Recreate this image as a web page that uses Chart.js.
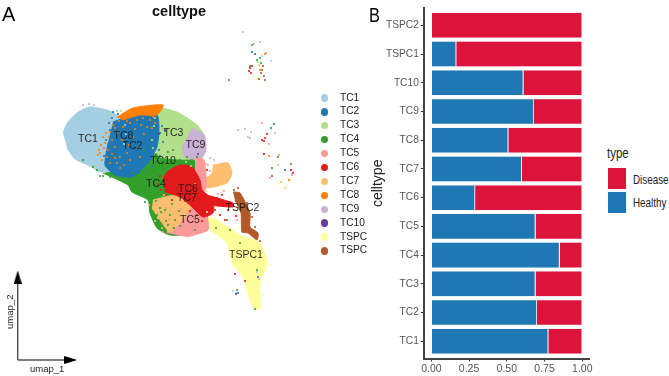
<!DOCTYPE html>
<html>
<head>
<meta charset="utf-8">
<script src="https://cdn.jsdelivr.net/npm/chart.js@4/dist/chart.umd.min.js"></script>
<style>
  html, body { margin: 0; padding: 0; background: #fff; }
  #page { position: relative; width: 669px; height: 376px; overflow: hidden; font-family: "Liberation Sans", Arial, sans-serif; }
  canvas { position: absolute; top: 0; }
  .txt { position: absolute; white-space: nowrap; line-height: 1; }
  .dot { position: absolute; width: 7.4px; height: 7.4px; border-radius: 50%; }
  .swatch { position: absolute; left: 608px; width: 18px; height: 21px; }
  .narrow { color: #222; transform-origin: left top; transform: scaleX(0.82); }
</style>
</head>
<body>
<div id="page">
  <canvas id="umapChart" width="320" height="376" style="left:0"></canvas>
  <canvas id="barChart" width="260" height="376" style="left:340px"></canvas>
  <div class="txt" style="left:2px;top:4px;font-size:20px">A</div>
  <div class="txt narrow" style="left:369px;top:5px;font-size:20px;color:#000">B</div>
  <div class="txt" style="left:152px;top:4px;font-size:14.5px;font-weight:bold;color:#111">celltype</div>
  <div class="txt" style="left:30px;top:364px;font-size:9.5px;color:#222">umap_1</div>
  <div class="txt" style="left:-7px;top:307px;font-size:9.5px;color:#222;transform:rotate(-90deg)">umap_2</div>
  <div class="txt narrow" style="left:607px;top:146px;font-size:14px">type</div>
  <div class="swatch" style="top:168px;background:#DC143C"></div>
  <div class="swatch" style="top:192px;background:#1F78B4"></div>
  <div class="txt narrow" style="left:633px;top:174px;font-size:12px">Disease</div>
  <div class="txt narrow" style="left:633px;top:197px;font-size:12px">Healthy</div>
  <div id="legend"></div>
</div>
<script>
// legend of panel A (the last two names are cut short in the original)
const legendNames = ["TC1", "TC2", "TC3", "TC4", "TC5", "TC6", "TC7", "TC8", "TC9", "TC10", "TSPC", "TSPC"];
const legendColors = ["#A6CEE3", "#1F78B4", "#B2DF8A", "#33A02C", "#FB9A99", "#E31A1C", "#FDBF6F", "#FF7F00", "#CAB2D6", "#6A3D9A", "#FFFF99", "#B15928"];

// cluster names placed on the umap
const clusterNames = ["TC1", "TC8", "TC2", "TC3", "TC9", "TC10", "TC4", "TC6", "TC7", "TC5", "TSPC2", "TSPC1"];
const clusterX = [8.8, 12.35, 13.25, 17.35, 19.55, 16.3, 15.6, 18.8, 18.7, 19.0, 24.25, 24.6];
const clusterY = [22.1, 22.4, 21.4, 22.7, 21.5, 19.9, 17.55, 17.05, 16.2, 13.95, 15.15, 10.5];

// outlines of the dense regions, umap coordinates
const tc1Shape = [[6.3,22.7],[6.8,23.8],[7.8,24.8],[9.0,25.3],[10.7,25.0],[11.7,24.5],[12.3,22.7],[12.3,20.3],[11.3,19.0],[10.0,18.8],[9.0,19.4],[7.5,20.1],[6.7,21.2]];
const tc2Shape = [[11.3,23.8],[13.3,24.5],[15.7,24.5],[15.9,23.0],[15.7,21.3],[14.8,19.7],[13.2,18.3],[11.5,18.5],[10.5,19.5],[10.8,21.7]];
const tc3Shape = [[15.7,25.3],[17.7,24.8],[19.7,23.5],[20.5,22.3],[20.4,20.7],[19.0,20.1],[16.0,20.3],[15.5,21.3],[15.7,23.0]];
const tc4Shape = [[10.3,18.7],[12.8,17.5],[13.2,16.8],[14.8,16.0],[15.0,14.7],[15.7,13.2],[17.0,12.5],[18.7,12.7],[18.7,16.0],[20.0,20.0],[19.7,20.3],[15.7,20.7],[13.3,19.3]];
const tc5Shape = [[16.7,12.7],[17.3,14.7],[18.7,15.7],[20.0,15.3],[20.8,14.3],[20.8,13.0],[18.7,12.3]];
const tc5TopShape = [[19.5,20.3],[20.4,20.0],[20.6,17.3],[20.0,16.3],[19.5,18.3]];
const tc6Shape = [[16.3,18.0],[16.7,18.8],[18.0,19.5],[19.2,19.3],[20.0,18.0],[20.2,17.0],[21.3,16.0],[21.3,14.7],[20.3,14.3],[19.2,15.3],[18.0,16.3],[16.5,16.8]];
const tc6TailShape = [[20.0,16.7],[23.3,15.7],[23.3,15.3],[20.7,15.5]];
const tc7Shape = [[15.3,16.0],[17.7,16.5],[19.2,15.7],[18.2,14.0],[17.0,12.8],[16.0,14.0],[15.2,15.2]];
const tc7BlockShape = [[21.3,19.5],[22.8,19.7],[23.2,18.7],[22.7,17.7],[20.7,17.2],[20.3,17.7],[21.2,18.7]];
const tc8Shape = [[11.7,24.3],[13.3,25.2],[16.3,25.5],[15.7,24.5],[14.0,24.5],[12.3,24.0]];
const tc9Shape = [[19.2,23.2],[20.4,22.5],[20.6,21.0],[20.0,20.0],[18.5,20.3],[18.2,21.3]];
const tspc1Shape = [[20.8,14.3],[21.7,14.0],[24.0,12.5],[26.0,11.7],[26.7,9.7],[26.0,7.7],[26.0,5.3],[25.5,5.0],[25.0,6.0],[24.3,8.3],[23.2,9.7],[22.7,11.7],[21.0,13.0]];
const tspc2Shape = [[23.3,16.8],[24.0,16.7],[25.0,14.7],[25.0,13.3],[25.8,12.7],[25.7,12.0],[24.8,12.7],[24.2,12.8],[24.1,14.7],[23.5,16.0]];

// single cells that stand out from the dense regions
const tc1Cells = [[11.7,24.9],[11.2,24.7],[12.5,23.5],[12.6,22.6],[12.4,21.6],[23.3,6.9],[23.6,6.7],[24.3,32.8],[27.1,29.9],[24.8,22.3]];
const tc2Cells = [[11.3,24.8],[11.8,24.6],[10.9,23.7],[11.0,23.0],[10.6,22.0],[16.0,22.7],[16.3,21.8],[16.2,23.4],[16.5,22.9],[15.9,21.0],[10.4,20.4],[11.2,24.2],[16.0,20.4],[13.9,18.7],[14.4,18.9],[15.2,19.4],[15.3,20.2],[25.2,30.8],[25.5,30.6],[26.0,30.2],[27.4,23.6],[27.1,23.2],[28.5,19.0],[23.8,6.7],[25.8,8.3]];
const tc3Cells = [[11.0,24.7],[12.1,24.9],[15.3,21.2],[15.2,22.0],[18.6,19.8],[19.1,19.4],[15.4,23.4],[15.5,24.2],[25.8,29.8],[26.2,30.4]];
const tc4Cells = [[8.3,20.0],[9.3,19.3],[10.3,18.4],[11.0,18.3],[11.7,18.2],[12.7,17.8],[13.3,18.7],[18.0,20.0],[18.7,20.3],[19.2,20.0],[19.7,20.3],[17.7,19.7],[18.3,19.6],[10.0,18.4],[9.7,19.0],[12.2,18.0],[14.5,15.8],[16.8,13.5],[17.4,13.2],[17.0,14.5],[16.5,15.0],[16.0,15.2],[17.5,14.0],[18.0,13.4],[19.5,13.0],[21.6,13.2],[15.6,15.9],[16.1,14.8],[15.7,14.5],[16.6,13.9],[17.9,14.9],[17.2,15.6],[14.4,21.0],[15.0,19.8],[14.6,19.3],[16.8,20.8],[17.3,21.0],[22.9,28.0],[25.2,31.5],[25.7,30.0],[26.1,29.7],[25.0,29.4],[27.2,19.2],[29.1,19.6],[27.8,20.3],[23.7,7.0],[25.5,5.1],[25.7,9.0],[22.7,14.0],[23.0,13.0],[24.0,11.7]];
const tc5Cells = [[20.8,19.5],[21.0,18.9],[20.7,18.2],[20.9,17.4],[21.8,16.6],[22.4,16.9],[23.5,15.0],[23.7,14.0],[16.6,15.2],[16.9,14.1],[17.3,13.2],[18.1,15.1],[17.8,13.0],[16.3,12.8],[25.4,31.6],[26.0,31.8],[26.6,30.7],[26.2,23.7],[27.5,22.7],[27.9,20.5],[29.2,18.5],[27.0,18.2]];
const tc6Cells = [[21.5,15.0],[22.0,14.5],[21.0,15.5],[22.2,16.5],[22.8,15.0],[22.5,14.0],[23.0,15.8],[22.3,15.5],[21.7,16.2],[20.2,13.9],[23.6,14.4],[16.0,18.4],[15.8,17.6],[16.1,17.0],[16.6,16.5],[17.2,16.0],[18.5,15.9],[19.0,14.9],[19.7,14.5],[20.7,19.0],[25.0,29.2],[24.9,28.9],[25.1,28.7],[25.2,29.4],[26.2,22.0],[26.5,22.2],[26.7,22.6],[26.4,21.9],[29.1,19.0],[29.3,18.7],[27.2,18.4],[23.5,8.6],[24.5,7.9],[26.4,20.6]];
const tc7Cells = [[15.4,15.4],[15.8,14.2],[16.4,16.5],[18.2,16.0],[18.5,14.9],[19.5,17.6],[20.6,16.9],[20.5,19.2],[14.9,15.5],[15.5,13.9],[16.2,13.2],[16.8,12.9],[26.9,21.6],[27.8,19.5],[28.1,17.8],[25.9,29.5],[28.5,17.2]];
const tc8Cells = [[10.0,20.7],[10.5,21.7],[11.0,22.8],[11.3,23.5],[10.3,22.3],[9.8,20.5],[10.8,21.0],[11.2,22.0],[11.5,21.3],[12.0,20.3],[12.7,20.7],[11.7,22.7],[12.3,23.3],[13.0,23.7],[13.7,24.0],[14.3,24.2],[15.0,24.0],[14.7,23.3],[13.3,22.3],[13.8,21.3],[11.7,19.7],[11.0,19.7],[12.0,19.2],[13.0,20.0],[14.0,20.3],[10.7,20.3],[10.2,20.0],[11.5,23.2],[12.2,24.3],[12.8,24.5],[14.4,22.6],[15.2,23.2],[12.9,21.5],[12.2,22.0],[10.4,21.2],[10.1,21.5],[9.9,21.0],[10.6,22.7],[10.9,22.3],[11.2,20.6],[11.5,20.2],[12.4,19.5],[13.5,23.1],[14.1,23.5],[15.3,24.3],[15.5,23.7],[12.7,23.9],[11.9,23.9],[26.0,29.0],[26.5,30.6],[28.9,18.0],[26.9,20.4]];
const tc9Cells = [[8.3,25.5],[8.9,25.6],[9.4,25.5],[20.6,19.6],[21.0,20.2],[21.4,20.0],[23.8,23.0],[24.5,23.1],[25.0,22.2],[25.1,22.8],[16.4,23.0],[25.7,8.8],[25.9,8.1]];
const tc10Cells = [[16.5,23.0],[15.9,22.6],[19.8,20.6],[23.6,6.6]];
const tspc1Cells = [[20.7,14.8],[21.9,14.7],[22.4,13.4],[23.3,12.6],[23.7,13.2],[27.0,9.5],[26.7,7.8],[26.3,6.5],[26.2,5.4],[24.9,6.5],[23.3,10.6],[25.4,28.3],[25.7,28.2],[27.9,17.6],[28.7,17.4],[22.2,17.0],[23.0,16.2]];
const tspc2Cells = [[23.4,17.0],[23.8,17.2],[24.7,15.7],[25.2,14.3],[24.9,13.0],[25.5,13.3],[26.2,29.0],[26.4,28.4],[26.5,28.0],[26.1,28.7],[26.3,29.4],[25.9,28.1],[26.0,11.9]];

// axis arrows, drawn from the origin of umap_1 / umap_2
const arrowX = [1.77, 7.07];
const arrowY = [0, 8.3];

// panel B, share of cells per type
const cellTypes = ["TC1", "TC2", "TC3", "TC4", "TC5", "TC6", "TC7", "TC8", "TC9", "TC10", "TSPC1", "TSPC2"];
const healthyShare = [0.775, 0.70, 0.69, 0.85, 0.69, 0.29, 0.60, 0.51, 0.68, 0.61, 0.165, 0];
const diseaseShare = [0.225, 0.30, 0.31, 0.15, 0.31, 0.71, 0.40, 0.49, 0.32, 0.39, 0.835, 1];

const [LIGHTBLUE, BLUE, LIGHTGREEN, GREEN, PINK, RED, PEACH, ORANGE, LILAC, PURPLE, YELLOW, BROWN] = legendColors;

function toPoints(pairs) {
  return pairs.map(p => ({ x: p[0], y: p[1] }));
}

function renderLegend() {
  const box = document.getElementById("legend");
  legendNames.forEach((name, i) => {
    const top = 98 + i * 13.9;
    const dot = document.createElement("div");
    dot.className = "dot";
    dot.style.cssText = `left:321px;top:${top - 3.7}px;background:${legendColors[i]}`;
    const label = document.createElement("div");
    label.className = "txt";
    label.style.cssText = `left:340px;top:${top - 5.5}px;font-size:10.2px;color:#222`;
    label.textContent = name;
    box.appendChild(dot);
    box.appendChild(label);
  });
}

// long narrow arrow head, points up before rotation
function makeArrowHead() {
  const head = document.createElement("canvas");
  head.width = 8;
  head.height = 13;
  const ctx = head.getContext("2d");
  ctx.fillStyle = "#000";
  ctx.beginPath();
  ctx.moveTo(4, 0);
  ctx.lineTo(8, 13);
  ctx.lineTo(0, 13);
  ctx.fill();
  return head;
}

// writes the cluster names on top of the points
const clusterLabelPlugin = {
  id: "clusterLabels",
  afterDatasetsDraw(chart) {
    const ctx = chart.ctx;
    ctx.save();
    ctx.font = '10.5px "Liberation Sans", Arial, sans-serif';
    ctx.fillStyle = "rgba(20,20,20,0.9)";
    ctx.textAlign = "center";
    ctx.textBaseline = "middle";
    clusterNames.forEach((name, i) => {
      ctx.fillText(name, chart.scales.x.getPixelForValue(clusterX[i]), chart.scales.y.getPixelForValue(clusterY[i]));
    });
    ctx.restore();
  }
};

function renderUmapChart() {
  const shapes = [
    [tc4Shape, GREEN], [tc1Shape, LIGHTBLUE], [tc3Shape, LIGHTGREEN], [tc2Shape, BLUE], [tc8Shape, ORANGE], [tc9Shape, LILAC],
    [tc7BlockShape, PEACH], [tc5Shape, PINK], [tc7Shape, PEACH],
    [tc5TopShape, PINK], [tc6Shape, RED], [tc6TailShape, RED], [tspc1Shape, YELLOW], [tspc2Shape, BROWN]
  ];
  const cells = [
    [tspc1Cells, YELLOW], [tc1Cells, LIGHTBLUE], [tc3Cells, LIGHTGREEN], [tc9Cells, LILAC], [tc7Cells, PEACH],
    [tc5Cells, PINK], [tc4Cells, GREEN], [tc2Cells, BLUE], [tc8Cells, ORANGE], [tc6Cells, RED],
    [tc10Cells, PURPLE], [tspc2Cells, BROWN]
  ];

  const datasets = [];
  shapes.forEach(([pairs, color]) => {
    datasets.push({
      data: toPoints(pairs), showLine: true, fill: "shape", tension: 0.2,
      backgroundColor: color, borderColor: color, borderWidth: 1, pointRadius: 0
    });
  });
  cells.forEach(([pairs, color]) => {
    datasets.push({ data: toPoints(pairs), showLine: false, backgroundColor: color, borderWidth: 0, pointRadius: 1.1 });
  });
  // axis arrows
  const head = makeArrowHead();
  datasets.push({
    data: [{ x: arrowX[0], y: arrowY[0] }, { x: arrowX[1], y: arrowY[0] }], showLine: true,
    borderColor: "#555", borderWidth: 1.5,
    pointRadius: [0, 7], pointStyle: [false, head], pointRotation: 90
  });
  datasets.push({
    data: [{ x: arrowX[0], y: arrowY[0] }, { x: arrowX[0], y: arrowY[1] }], showLine: true,
    borderColor: "#555", borderWidth: 1.5,
    pointRadius: [0, 7], pointStyle: [false, head]
  });
  // first dataset in the list paints first
  datasets.forEach((d, i) => { d.order = datasets.length - i; });

  new Chart(document.getElementById("umapChart").getContext("2d"), {
    type: "scatter",
    data: { datasets },
    options: {
      responsive: false,
      animation: false,
      layout: { padding: 0, autoPadding: false },
      plugins: { legend: { display: false }, tooltip: { enabled: false } },
      scales: {
        x: { type: "linear", min: 0, max: 32, display: false },
        y: { type: "linear", min: -1.6, max: 36, display: false }
      }
    },
    plugins: [clusterLabelPlugin]
  });
}

function renderBarChart() {
  const rows = key => cellTypes.map((_, i) => ({ x: key[i], y: i }));
  const tickFont = '"Liberation Sans", sans-serif';
  new Chart(document.getElementById("barChart").getContext("2d"), {
    type: "bar",
    data: {
      datasets: [
        { label: "Healthy", data: rows(healthyShare), backgroundColor: "#1F78B4", borderColor: "#EAF2F8", borderWidth: 0.8 },
        { label: "Disease", data: rows(diseaseShare), backgroundColor: "#DC143C", borderColor: "#FBE3E8", borderWidth: 0.8 }
      ]
    },
    options: {
      indexAxis: "y",
      responsive: false,
      animation: false,
      layout: { padding: { left: 30, right: 10.2, top: 1.8, bottom: 0 }, autoPadding: false },
      datasets: { bar: { categoryPercentage: 1, barPercentage: 0.91 } },
      plugins: { legend: { display: false }, tooltip: { enabled: false } },
      scales: {
        x: {
          type: "linear", stacked: true, min: -0.05, max: 1.05,
          grid: { drawOnChartArea: false, tickLength: 3, tickColor: "#333" },
          border: { color: "#444", width: 2 },
          afterBuildTicks: scale => { scale.ticks = [0, 0.25, 0.5, 0.75, 1].map(v => ({ value: v })); },
          ticks: {
            padding: 1, color: "#555", maxRotation: 0, autoSkip: false,
            font: { family: tickFont, size: 10.5 },
            callback: v => Number(v).toFixed(2)
          },
          afterFit: scale => { scale.height = 17.5; }
        },
        y: {
          type: "linear", stacked: true, offset: false, min: -0.6, max: 11.6,
          grid: { offset: false, drawOnChartArea: false, tickLength: 3, tickColor: "#333" },
          border: { color: "#444", width: 2 },
          afterBuildTicks: scale => { scale.ticks = cellTypes.map((_, i) => ({ value: i })); },
          ticks: {
            padding: 2, color: "#555", autoSkip: false,
            font: { family: tickFont, size: 10.2 },
            callback: v => cellTypes[v]
          },
          title: { display: true, text: "celltype", color: "#222", padding: 0, font: { family: tickFont, size: 14 } },
          afterFit: scale => { scale.width = 53.8; }
        }
      }
    }
  });
}

renderLegend();
renderUmapChart();
renderBarChart();
</script>
</body>
</html>
